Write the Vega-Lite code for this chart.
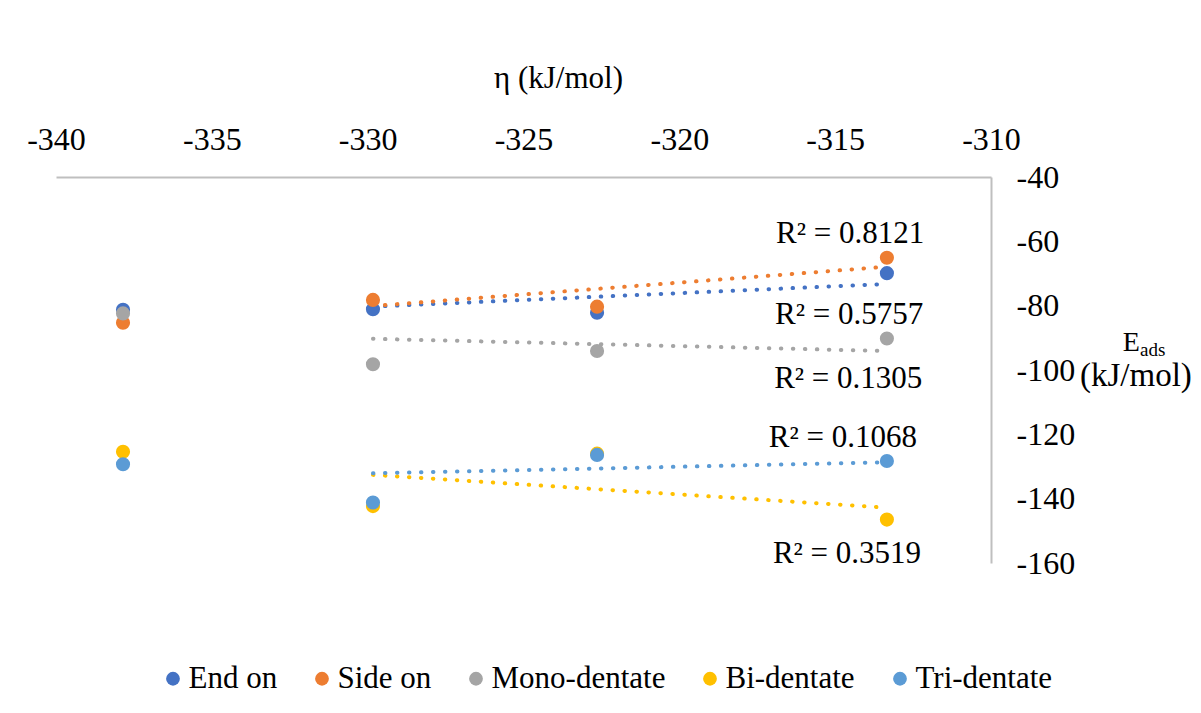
{
  "$schema": "https://vega.github.io/schema/vega-lite/v6.json",
  "width": 935,
  "height": 386,
  "autosize": {"type": "none"},
  "padding": {"left": 56, "top": 177, "right": 210, "bottom": 150},
  "background": "white",
  "config": {"view": {"stroke": null}, "font": "Liberation Serif"},
  "datasets": {
    "points": [
      {"series": "End on", "x": -337.85, "y": -81.3},
      {"series": "End on", "x": -329.83, "y": -81.1},
      {"series": "End on", "x": -322.64, "y": -82.2},
      {"series": "End on", "x": -313.34, "y": -69.9},
      {"series": "Side on", "x": -337.85, "y": -85.3},
      {"series": "Side on", "x": -329.83, "y": -78.2},
      {"series": "Side on", "x": -322.64, "y": -80.3},
      {"series": "Side on", "x": -313.34, "y": -65.1},
      {"series": "Mono-dentate", "x": -337.85, "y": -82.4},
      {"series": "Mono-dentate", "x": -329.83, "y": -98.2},
      {"series": "Mono-dentate", "x": -322.64, "y": -94.1},
      {"series": "Mono-dentate", "x": -313.34, "y": -90.2},
      {"series": "Bi-dentate", "x": -337.85, "y": -125.4},
      {"series": "Bi-dentate", "x": -329.83, "y": -142.3},
      {"series": "Bi-dentate", "x": -322.64, "y": -126.0},
      {"series": "Bi-dentate", "x": -313.34, "y": -146.5},
      {"series": "Tri-dentate", "x": -337.85, "y": -129.3},
      {"series": "Tri-dentate", "x": -329.83, "y": -141.2},
      {"series": "Tri-dentate", "x": -322.64, "y": -126.4},
      {"series": "Tri-dentate", "x": -313.34, "y": -128.3}
    ],
    "trend": [
      {"trendline": "End on", "x": -329.83, "y": -80.3},
      {"trendline": "End on", "x": -313.34, "y": -73.25},
      {"trendline": "Side on", "x": -329.83, "y": -80.1},
      {"trendline": "Side on", "x": -313.34, "y": -67.9},
      {"trendline": "Mono-dentate", "x": -329.83, "y": -90.3},
      {"trendline": "Mono-dentate", "x": -313.34, "y": -94.1},
      {"trendline": "Bi-dentate", "x": -329.83, "y": -132.6},
      {"trendline": "Bi-dentate", "x": -313.34, "y": -142.8},
      {"trendline": "Tri-dentate", "x": -329.83, "y": -132.1},
      {"trendline": "Tri-dentate", "x": -313.34, "y": -128.7}
    ],
    "r2": [
      {"t": "R² = 0.8121", "x": -314.52, "y": -60.5},
      {"t": "R² = 0.5757", "x": -314.55, "y": -85.7},
      {"t": "R² = 0.1305", "x": -314.58, "y": -105.75},
      {"t": "R² = 0.1068", "x": -314.75, "y": -123.9},
      {"t": "R² = 0.3519", "x": -314.62, "y": -160.0}
    ]
  },
  "encoding": {
    "x": {
      "field": "x",
      "type": "quantitative",
      "scale": {"domain": [-340, -310], "nice": false, "zero": false},
      "axis": {
        "orient": "top",
        "title": "η (kJ/mol)",
        "values": [-340, -335, -330, -325, -320, -315, -310],
        "labelExpr": "toString(datum.value)",
        "ticks": false,
        "tickSize": 0,
        "grid": false,
        "domainColor": "#BFBFBF",
        "domainWidth": 2,
        "labelFont": "Liberation Serif",
        "labelFontSize": 32,
        "labelColor": "#000000",
        "labelPadding": 28,
        "labelBaseline": "alphabetic",
        "labelFlush": false,
        "labelOverlap": false,
        "titleFont": "Liberation Serif",
        "titleFontSize": 31,
        "titleFontWeight": "normal",
        "titleColor": "#000000",
        "titleX": 502,
        "titleY": -90,
        "titleBaseline": "alphabetic",
        "titleAlign": "center"
      }
    },
    "y": {
      "field": "y",
      "type": "quantitative",
      "scale": {"domain": [-160, -40], "nice": false, "zero": false},
      "axis": {
        "orient": "right",
        "title": null,
        "values": [-40, -60, -80, -100, -120, -140, -160],
        "labelExpr": "toString(datum.value)",
        "ticks": false,
        "tickSize": 0,
        "grid": false,
        "domainColor": "#BFBFBF",
        "domainWidth": 2,
        "labelFont": "Liberation Serif",
        "labelFontSize": 32,
        "labelColor": "#000000",
        "labelPadding": 25,
        "labelAlign": "left",
        "labelBaseline": "middle",
        "labelFlush": false,
        "labelOverlap": false
      }
    }
  },
  "layer": [
    {
      "data": {"name": "trend"},
      "transform": [{"filter": "datum.trendline == 'End on'"}],
      "mark": {"type": "line", "color": "#4472C4", "strokeDash": [0.5, 11.5], "strokeCap": "round", "strokeWidth": 4},
      "encoding": {}
    },
    {
      "data": {"name": "trend"},
      "transform": [{"filter": "datum.trendline == 'Side on'"}],
      "mark": {"type": "line", "color": "#ED7D31", "strokeDash": [0.5, 11.5], "strokeCap": "round", "strokeWidth": 4},
      "encoding": {}
    },
    {
      "data": {"name": "trend"},
      "transform": [{"filter": "datum.trendline == 'Mono-dentate'"}],
      "mark": {"type": "line", "color": "#A5A5A5", "strokeDash": [0.5, 11.5], "strokeCap": "round", "strokeWidth": 4},
      "encoding": {}
    },
    {
      "data": {"name": "trend"},
      "transform": [{"filter": "datum.trendline == 'Bi-dentate'"}],
      "mark": {"type": "line", "color": "#FFC000", "strokeDash": [0.5, 11.5], "strokeCap": "round", "strokeWidth": 4},
      "encoding": {}
    },
    {
      "data": {"name": "trend"},
      "transform": [{"filter": "datum.trendline == 'Tri-dentate'"}],
      "mark": {"type": "line", "color": "#5B9BD5", "strokeDash": [0.5, 11.5], "strokeCap": "round", "strokeWidth": 4},
      "encoding": {}
    },
    {
      "data": {"name": "points"},
      "mark": {"type": "circle", "size": 200, "opacity": 1},
      "encoding": {
        "color": {
          "field": "series",
          "type": "nominal",
          "scale": {
            "domain": ["End on", "Side on", "Mono-dentate", "Bi-dentate", "Tri-dentate"],
            "range": ["#4472C4", "#ED7D31", "#A5A5A5", "#FFC000", "#5B9BD5"]
          },
          "legend": {
            "orient": "none",
            "legendX": 101.5,
            "legendY": 486,
            "direction": "horizontal",
            "title": null,
            "symbolType": "circle",
            "symbolSize": 190,
            "symbolStrokeWidth": 0,
            "labelFont": "Liberation Serif",
            "labelFontSize": 31,
            "labelColor": "#000000",
            "labelLimit": 400,
            "columnPadding": 29,
            "labelOffset": 0,
            "padding": 0
          }
        }
      }
    },
    {
      "data": {"name": "r2"},
      "mark": {"type": "text", "font": "Liberation Serif", "fontSize": 31, "align": "center", "baseline": "alphabetic", "color": "#000000"},
      "encoding": {"text": {"field": "t"}}
    },
    {
      "data": {"values": [{"t": "E", "x": -305.22, "y": -94.1}]},
      "mark": {"type": "text", "font": "Liberation Serif", "fontSize": 28, "align": "right", "baseline": "alphabetic", "color": "#000000"},
      "encoding": {"text": {"field": "t"}}
    },
    {
      "data": {"values": [{"t": "ads", "x": -305.22, "y": -95.5}]},
      "mark": {"type": "text", "font": "Liberation Serif", "fontSize": 19, "align": "left", "baseline": "alphabetic", "color": "#000000"},
      "encoding": {"text": {"field": "t"}}
    },
    {
      "data": {"values": [{"t": "(kJ/mol)", "x": -305.35, "y": -105.0}]},
      "mark": {"type": "text", "font": "Liberation Serif", "fontSize": 33, "align": "center", "baseline": "alphabetic", "color": "#000000"},
      "encoding": {"text": {"field": "t"}}
    }
  ]
}
